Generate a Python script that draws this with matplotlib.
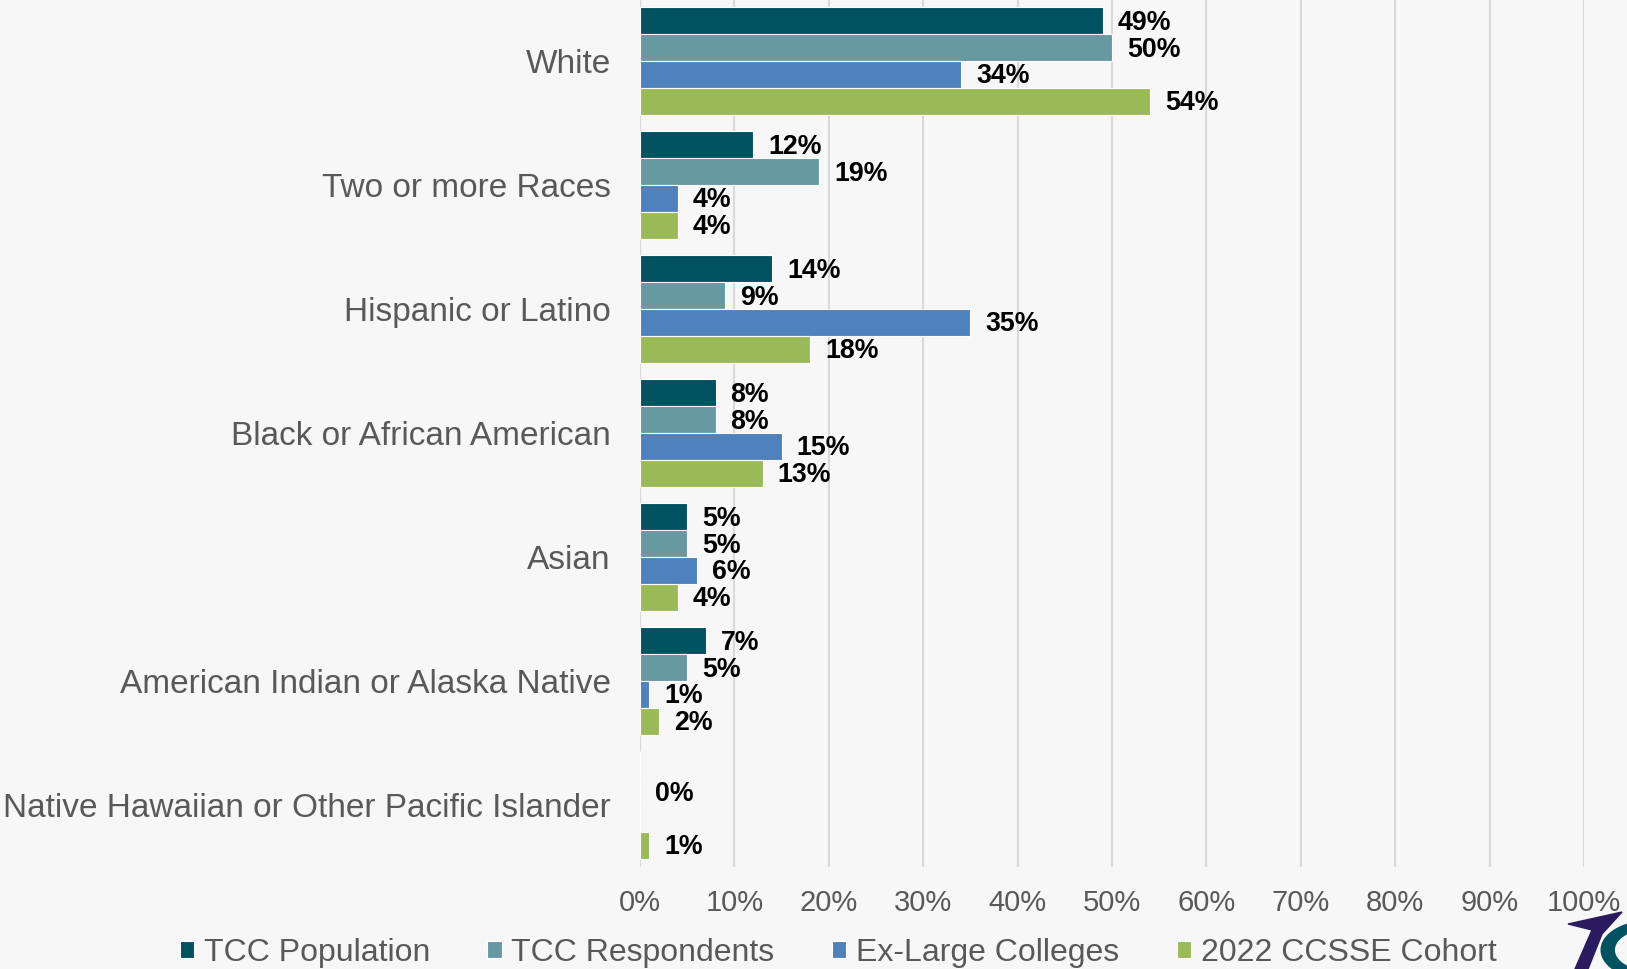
import matplotlib
matplotlib.use("Agg")
import matplotlib.pyplot as plt
import numpy as np
from matplotlib.patches import Polygon, Wedge

categories = ["White", "Two or more Races", "Hispanic or Latino",
              "Black or African American", "Asian",
              "American Indian or Alaska Native",
              "Native Hawaiian or Other Pacific Islander"]
series_names = ["TCC Population", "TCC Respondents", "Ex-Large Colleges", "2022 CCSSE Cohort"]
tcc_population = [49, 12, 14, 8, 5, 7, np.nan]
tcc_respondents = [50, 19, 9, 8, 5, 5, 0]
ex_large = [34, 4, 35, 15, 6, 1, np.nan]
ccsse_cohort = [54, 4, 18, 13, 4, 2, 1]
x_ticks = [0, 10, 20, 30, 40, 50, 60, 70, 80, 90, 100]

colors = ["#005260", "#6699a1", "#4f81bd", "#9bbb59"]
bg = "#f7f7f7"

plt.rcParams["font.family"] = ["Liberation Sans", "DejaVu Sans"]

fig = plt.figure(figsize=(16.27, 9.69), dpi=100, facecolor=bg)
ax = fig.add_axes([640/1627, 1-867/969, 944/1627, 867/969], facecolor=bg)

h = 0.217
y = np.arange(len(categories))
all_series = [tcc_population, tcc_respondents, ex_large, ccsse_cohort]
for i, (vals, name, c) in enumerate(zip(all_series, series_names, colors)):
    pos = y + (i - 1.5) * h
    ax.barh(pos, np.nan_to_num(vals), height=h, color=c, edgecolor="white",
            linewidth=0.8, label=name, zorder=3)
    for p, v in zip(pos, vals):
        if np.isnan(v):
            continue
        ax.annotate("%d%%" % v, (v, p), xytext=(15, -2), textcoords="offset pixels",
                    ha="left", va="center", fontsize=19.3, fontweight="bold",
                    color="black", zorder=4)

ax.set_xlim(0, 100)
ax.set_ylim(6.50, -0.492)
ax.set_xticks(x_ticks)
ax.set_xticklabels(["%d%%" % t for t in x_ticks], fontsize=21, color="#595959")
ax.set_yticks(y)
ax.set_yticklabels(categories, fontsize=24, color="#595959")
ax.tick_params(axis="both", length=0)
ax.tick_params(axis="y", pad=21)
ax.tick_params(axis="x", pad=16)
ax.grid(axis="x", color="#d9d9d9", linewidth=1.5, zorder=0)
for s in ax.spines.values():
    s.set_visible(False)

leg = fig.legend(loc="center", bbox_to_anchor=(838/1627, 1-953/969), ncol=4,
                 frameon=False, prop={"size": 23},
                 handlelength=0.45, handleheight=0.45, handletextpad=0.3,
                 columnspacing=1.8)
for t in leg.get_texts():
    t.set_color("#595959")

# partial logo in the corner
W, H = 1627, 969
star = [(1568, 924), (1622, 912), (1602, 934), (1588, 969), (1575, 969), (1592, 930)]
fig.patches.append(Polygon([(x/W, 1-yy/H) for x, yy in star], closed=True,
                           transform=fig.transFigure, color="#2a1a5e"))
fig.patches.append(Wedge((1650/W, 1-950/H), 0.03, 110, 250, width=0.008,
                         transform=fig.transFigure, color="#005260"))

fig.savefig("out.png", dpi=100, facecolor=bg)
